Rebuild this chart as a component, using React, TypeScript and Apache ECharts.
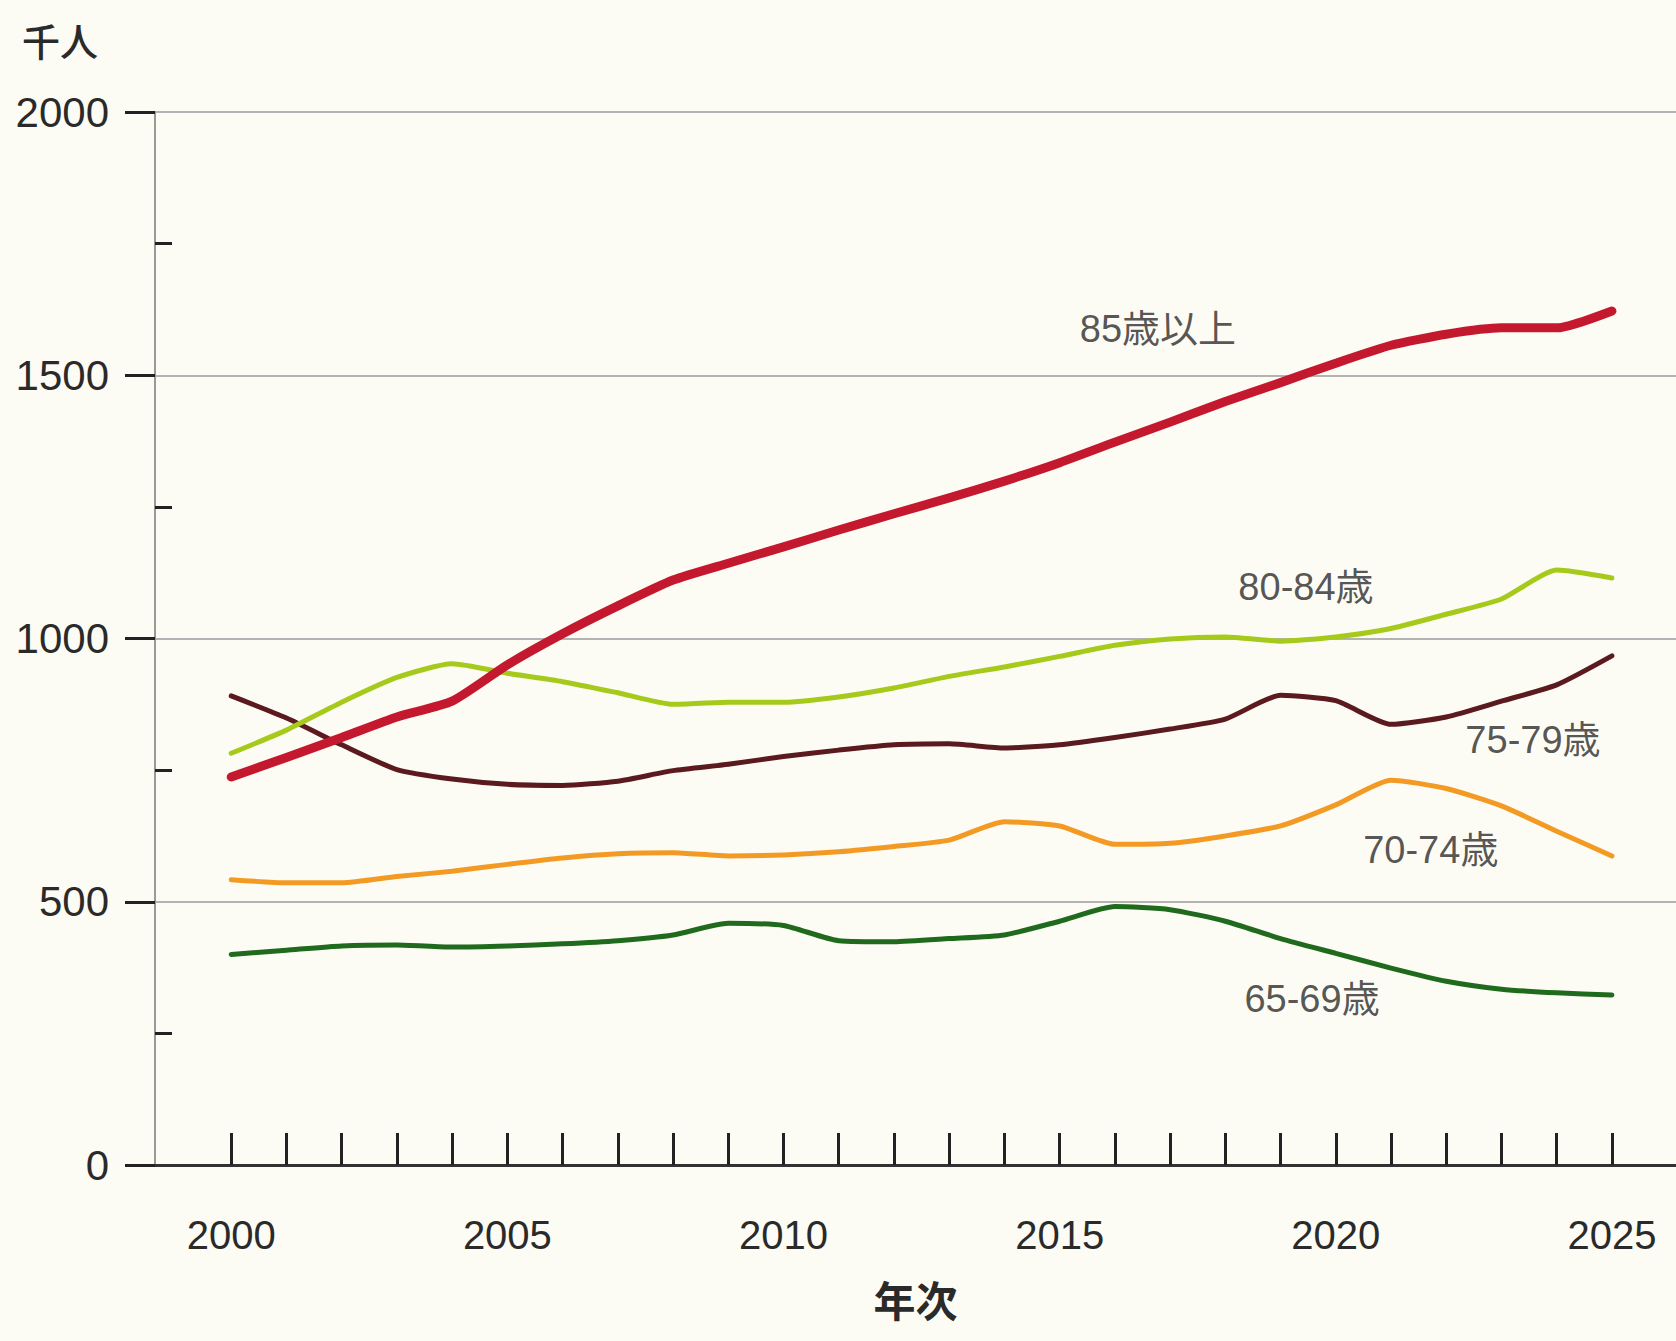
import React, { useEffect, useRef } from "react";
import * as echarts from "echarts";

const years = [2000, 2001, 2002, 2003, 2004, 2005, 2006, 2007, 2008, 2009, 2010, 2011, 2012, 2013, 2014, 2015, 2016, 2017, 2018, 2019, 2020, 2021, 2022, 2023, 2024, 2025];

const age85plus = [737, 774, 812, 851, 881, 950, 1009, 1062, 1111, 1143, 1174, 1206, 1237, 1267, 1299, 1334, 1373, 1411, 1450, 1486, 1523, 1557, 1578, 1590, 1590, 1622];
const age80to84 = [782, 826, 879, 926, 952, 934, 918, 897, 875, 879, 879, 889, 906, 928, 946, 966, 987, 999, 1003, 995, 1003, 1019, 1046, 1075, 1130, 1115];
const age75to79 = [891, 849, 798, 751, 733, 723, 721, 729, 749, 761, 776, 788, 798, 800, 792, 798, 812, 828, 847, 892, 882, 837, 851, 881, 912, 967];
const age70to74 = [542, 536, 536, 548, 558, 571, 583, 591, 593, 587, 589, 595, 605, 617, 652, 644, 609, 611, 625, 644, 684, 731, 715, 682, 634, 587];
const age65to69 = [400, 408, 416, 418, 414, 416, 420, 426, 437, 459, 455, 426, 424, 430, 437, 463, 491, 485, 463, 430, 402, 374, 349, 334, 327, 323];

const seriesNames = ["65-69歳", "70-74歳", "75-79歳", "80-84歳", "85歳以上"];
const seriesColors = ["#1f6a1c", "#f39a24", "#5a1a1e", "#a6ca1c", "#c4182f"];
const seriesWidths = [5, 5, 5, 5, 9];
const seriesValues = [age65to69, age70to74, age75to79, age80to84, age85plus];

const labelYears = [2019.57, 2021.72, 2023.57, 2019.46, 2016.78];
const labelValues = [315, 598, 807, 1098, 1588];

const xTickYears = years;
const xLabelYears = [2000, 2005, 2010, 2015, 2020, 2025];
const yMinorTicks = [250, 750, 1250, 1750];

export default function App() {
  const ref = useRef<HTMLDivElement>(null);
  useEffect(() => {
    const chart = echarts.init(ref.current!, null, { renderer: "svg" });
    const lineSeries = seriesNames.map((name, i) => ({
      type: "line",
      name,
      data: years.map((y, j) => [y, seriesValues[i][j]]),
      showSymbol: false,
      symbol: "none",
      smooth: 0.2,
      lineStyle: { color: seriesColors[i], width: seriesWidths[i], cap: "round", join: "round" },
      z: 2 + i,
    }));
    chart.setOption({
      animation: false,
      backgroundColor: "#fdfcf4",
      grid: { left: 155, top: 112, right: 0, bottom: 176, containLabel: false },
      graphic: [
        {
          type: "text",
          left: 22,
          top: 20,
          style: { text: "千人", fontSize: 38, fill: "#2a2a2a", fontFamily: "Noto Sans CJK JP", fontWeight: 500 },
        },
      ],
      xAxis: {
        type: "value",
        min: 1998.62,
        max: 2026.16,
        axisLine: { show: true, lineStyle: { color: "#333", width: 3 } },
        axisTick: { show: true, inside: true, length: 32, customValues: xTickYears, lineStyle: { color: "#222", width: 3 } },
        axisLabel: {
          show: true,
          customValues: xLabelYears,
          margin: 50,
          fontSize: 40,
          color: "#2a2a2a",
          fontFamily: "Liberation Sans",
          formatter: (v: number) => String(Math.round(v)),
        },
        splitLine: { show: false },
        name: "年次",
        nameLocation: "middle",
        nameGap: 112,
        nameTextStyle: { fontSize: 42, color: "#2a2a2a", fontFamily: "Noto Sans CJK JP", fontWeight: "bold" },
      },
      yAxis: [
        {
          type: "value",
          min: 0,
          max: 2000,
          interval: 500,
          axisLine: { show: true, lineStyle: { color: "#999", width: 2 } },
          axisTick: { show: true, inside: false, length: 30, lineStyle: { color: "#222", width: 3 } },
          axisLabel: {
            fontSize: 42,
            color: "#2a2a2a",
            margin: 46,
            fontFamily: "Liberation Sans",
            formatter: (v: number) => String(v),
          },
          splitLine: { show: true, lineStyle: { color: "#b3b3b3", width: 2 } },
        },
        {
          type: "value",
          min: 0,
          max: 2000,
          position: "left",
          axisLine: { show: false },
          axisTick: { show: true, inside: true, length: 17, customValues: yMinorTicks, lineStyle: { color: "#222", width: 3 } },
          axisLabel: { show: false },
          splitLine: { show: false },
        },
      ],
      series: [
        ...lineSeries,
        {
          type: "scatter",
          symbolSize: 1,
          itemStyle: { color: "transparent" },
          data: seriesNames.map((n, i) => ({ name: n, value: [labelYears[i], labelValues[i]] })),
          label: {
            show: true,
            position: "inside",
            formatter: (p: any) => p.name,
            fontSize: 38,
            color: "#2a2a2a",
            fontFamily: "Liberation Sans, Noto Sans CJK JP",
          },
          z: 10,
        },
      ],
    });
    return () => chart.dispose();
  }, []);
  return <div ref={ref} style={{ position: "fixed", left: 0, top: 0, width: 1676, height: 1341 }} />;
}
